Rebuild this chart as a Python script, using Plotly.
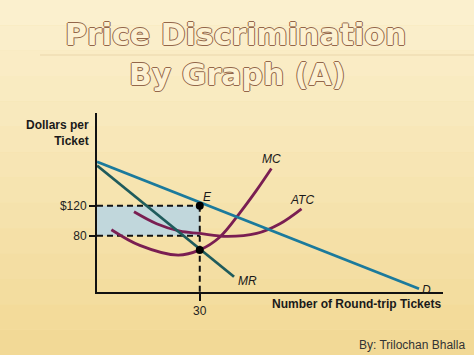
import plotly.graph_objects as go

# ---- data ----
demand_q = [0, 94]
demand_p = [179, 9]
mr_q = [0, 40]
mr_p = [174, 25]
mc_q = [4.2, 12.5, 23.7, 30, 35.8, 41.6, 46.6, 50.9]
mc_p = [88, 67, 54, 61, 78, 110, 141, 170]
atc_q = [10.8, 17.4, 24.2, 30, 37.8, 46.6, 53.4, 59.7]
atc_p = [112, 96, 86, 83, 79, 83, 96, 116]
q_star = 30
p_star = 120
atc_star = 80
mc_star = 61
y_tick_vals = [80, 120]
y_tick_text = ["80", "$120"]
x_tick_vals = [30]
x_tick_text = ["30"]

# ---- layout constants ----
W, H = 474, 355
ML, MR_, MT, MB = 97, 31, 113, 63
PW, PH = W - ML - MR_, H - MT - MB
X_RANGE = [0, 101]
Y_RANGE = [4.6, 244.4]


def px_x(px):
    return (px - ML) / PW


def px_y(py):
    return (H - MB - py) / PH


D_COL = "#1b7a9c"
MR_COL = "#1f5b5c"
CURVE_COL = "#7a1e52"
TXT = "#1a1a1a"
FONT = "Liberation Sans, Arial, sans-serif"

fig = go.Figure()

# shaded profit rectangle
fig.add_trace(go.Scatter(
    x=[0, q_star, q_star, 0, 0],
    y=[atc_star, atc_star, p_star, p_star, atc_star],
    mode="lines", fill="toself", fillcolor="rgba(190,214,222,0.95)",
    line=dict(width=0), hoverinfo="skip", showlegend=False))

# dashed guides
dash = dict(color="#111", width=2, dash="6px,4px")
fig.add_trace(go.Scatter(x=[0, q_star], y=[p_star, p_star], mode="lines",
                         line=dash, showlegend=False, hoverinfo="skip"))
fig.add_trace(go.Scatter(x=[0, q_star], y=[atc_star, atc_star], mode="lines",
                         line=dash, showlegend=False, hoverinfo="skip"))
fig.add_trace(go.Scatter(x=[q_star, q_star], y=[p_star, Y_RANGE[0]], mode="lines",
                         line=dash, showlegend=False, hoverinfo="skip"))

# curves
fig.add_trace(go.Scatter(x=atc_q, y=atc_p, mode="lines", line=dict(color=CURVE_COL, width=2.8, shape="spline"),
                         showlegend=False, name="ATC"))
fig.add_trace(go.Scatter(x=mc_q, y=mc_p, mode="lines", line=dict(color=CURVE_COL, width=2.8, shape="spline"),
                         showlegend=False, name="MC"))
fig.add_trace(go.Scatter(x=mr_q, y=mr_p, mode="lines", line=dict(color=MR_COL, width=2.8),
                         showlegend=False, name="MR"))
fig.add_trace(go.Scatter(x=demand_q, y=demand_p, mode="lines", line=dict(color=D_COL, width=2.8),
                         showlegend=False, name="D"))

# points
fig.add_trace(go.Scatter(x=[q_star, q_star], y=[p_star, mc_star], mode="markers",
                         marker=dict(color="#000", size=8), showlegend=False))

# background bands (gradient)
shapes = []
top_c = (251, 240, 206)
bot_c = (242, 217, 150)
n = 14
for i in range(n):
    t = i / (n - 1)
    c = tuple(round(top_c[k] + (bot_c[k] - top_c[k]) * t) for k in range(3))
    y0 = px_y(H * i / n)
    y1 = px_y(H * (i + 1) / n)
    shapes.append(dict(type="rect", xref="paper", yref="paper", x0=px_x(0), x1=px_x(W),
                       y0=y1, y1=y0, fillcolor="rgb(%d,%d,%d)" % c, line=dict(width=0), layer="below"))
shapes.append(dict(type="line", xref="paper", yref="paper", x0=px_x(40), x1=px_x(W),
                   y0=px_y(55), y1=px_y(55), line=dict(color="rgba(200,175,120,0.35)", width=1), layer="below"))

ann = []
lab = dict(family=FONT, size=12, color=TXT, style="italic")
ann.append(dict(x=mc_q[-1], y=mc_p[-1], text="MC", showarrow=False, xanchor="center", yanchor="bottom",
                yshift=1, font=lab))
ann.append(dict(x=atc_q[-1], y=atc_p[-1], text="ATC", showarrow=False, xanchor="center", yanchor="bottom",
                yshift=0, font=lab))
ann.append(dict(x=q_star, y=p_star, text="E", showarrow=False, xanchor="left", yanchor="bottom",
                xshift=1, yshift=0, font=lab))
ann.append(dict(x=mr_q[-1], y=mr_p[-1], text="MR", showarrow=False, xanchor="left", yanchor="middle",
                xshift=2, yshift=-4, font=lab))
ann.append(dict(x=demand_q[-1], y=demand_p[-1], text="D", showarrow=False, xanchor="left", yanchor="middle",
                xshift=1, yshift=-1, font=lab))

bold = dict(family=FONT, size=12, color=TXT, weight="bold")
ann.append(dict(xref="paper", yref="paper", x=px_x(91), y=px_y(116), text="Dollars per<br>Ticket",
                showarrow=False, xanchor="right", yanchor="top", align="right", font=bold))
ann.append(dict(xref="paper", yref="paper", x=px_x(443), y=px_y(304), text="Number of Round-trip Tickets",
                showarrow=False, xanchor="right", yanchor="middle", font=bold))
ann.append(dict(xref="paper", yref="paper", x=px_x(467), y=px_y(345), text="By: Trilochan Bhalla",
                showarrow=False, xanchor="right", yanchor="middle",
                font=dict(family=FONT, size=12, color="#333")))

outline = "#93664a"
shadow = ", ".join("%spx %spx 0 %s" % (dx, dy, outline) for dx, dy in
                   [(1, 0), (-1, 0), (0, 1), (0, -1)])
title_font = dict(family="DejaVu Sans, sans-serif", size=30, color="#fcf1d2", weight="bold", shadow=shadow)
ann.append(dict(xref="paper", yref="paper", x=px_x(235), y=px_y(34), text="Price Discrimination",
                showarrow=False, xanchor="center", yanchor="middle", font=title_font))
ann.append(dict(xref="paper", yref="paper", x=px_x(237), y=px_y(74), text="By Graph (A)",
                showarrow=False, xanchor="center", yanchor="middle", font=title_font))

fig.update_layout(
    width=W, height=H, autosize=False,
    margin=dict(l=ML, r=MR_, t=MT, b=MB, pad=0),
    paper_bgcolor="rgb(245,226,170)", plot_bgcolor="rgba(0,0,0,0)",
    shapes=shapes, annotations=ann, showlegend=False,
    xaxis=dict(range=X_RANGE, showgrid=False, zeroline=False, showline=True, linecolor="#111", linewidth=2,
               ticks="outside", ticklen=7, tickwidth=1.5, tickcolor="#111",
               tickvals=x_tick_vals, ticktext=x_tick_text,
               tickfont=dict(family=FONT, size=12, color="#222")),
    yaxis=dict(range=Y_RANGE, showgrid=False, zeroline=False, showline=True, linecolor="#111", linewidth=2,
               ticks="outside", ticklen=6, tickwidth=1.5, tickcolor="#111",
               tickvals=y_tick_vals, ticktext=y_tick_text,
               tickfont=dict(family=FONT, size=12, color="#222")),
)

fig.write_html("out.html", config={"displayModeBar": False},
               post_script="document.body.style.margin='0';document.body.style.overflow='hidden';")
